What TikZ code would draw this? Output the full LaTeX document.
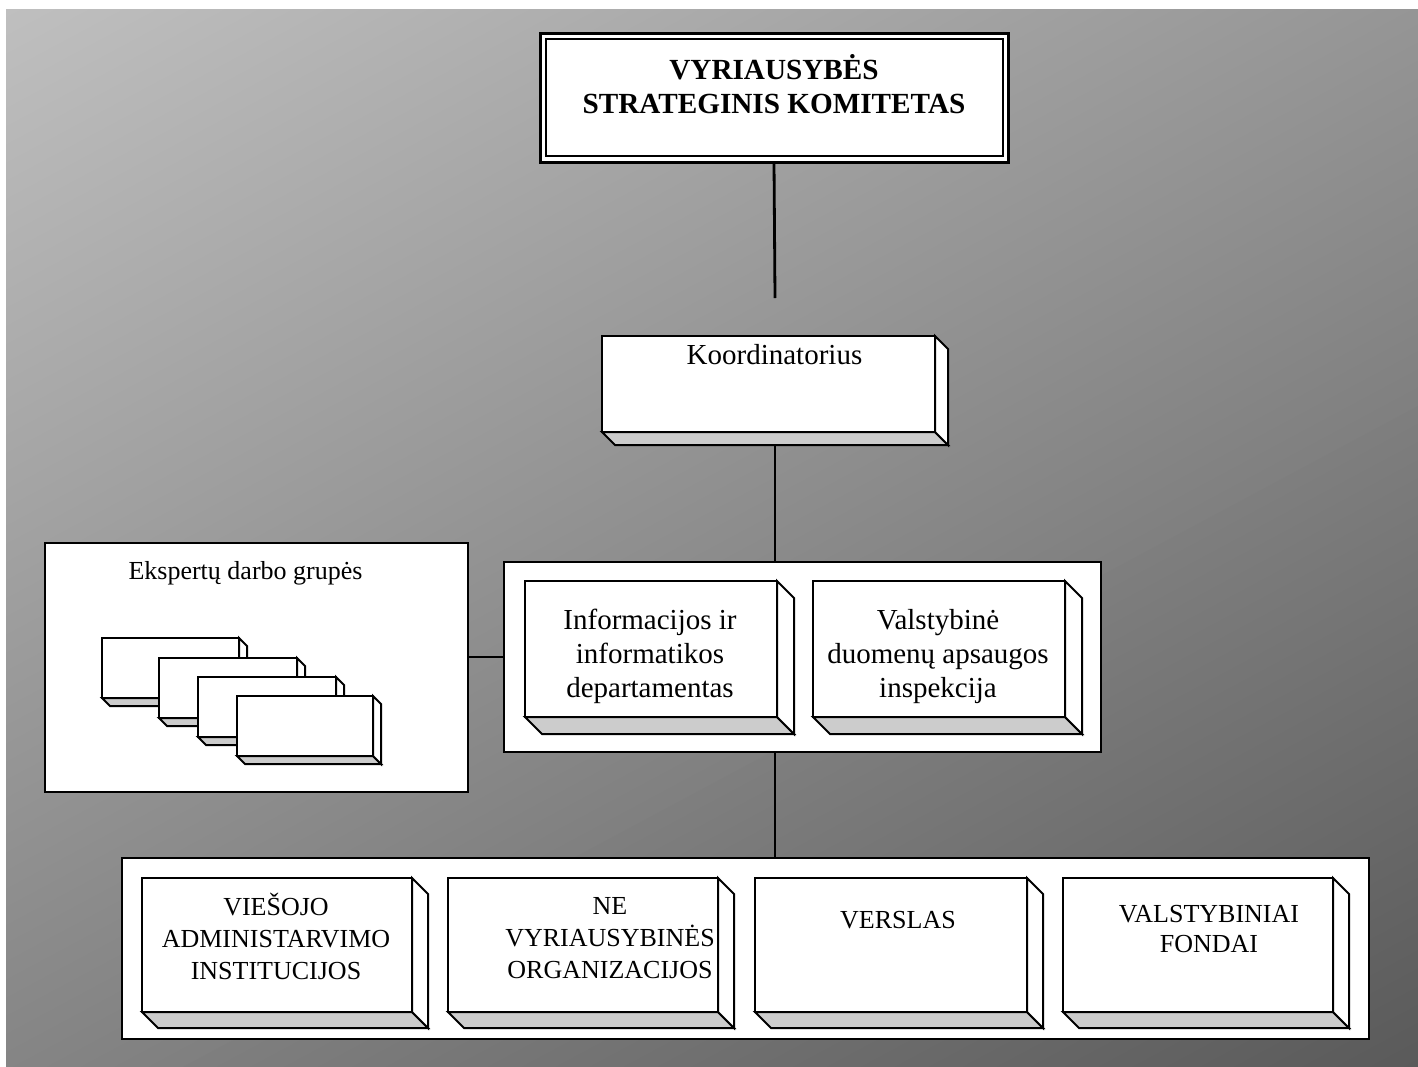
\documentclass[tikz,border=0pt]{standalone}
\usepackage{fontspec}
\setmainfont{Liberation Serif}
\usetikzlibrary{calc}

% front face of an extruded slab, given by its corners (x1,y1) and (x2,y2)
\newcommand{\slabface}[5]{%
  \node[frontface, minimum width={(#4-#2)*0.5pt}, minimum height={(#5-#3)*0.5pt}] (#1) at (#2,#3) {};}
% side and floor of the slab, #2 = depth
\newcommand{\slabdepth}[2]{%
  \draw[faceline, fill=floorgray] (#1.south west) -- (#1.south east) -- ++(#2,#2)
        -- ($(#1.south west)+(#2,#2)$) -- cycle;
  \draw[faceline, fill=white] (#1.north east) -- ++(#2,#2)
        -- ($(#1.south east)+(#2,#2)$) -- (#1.south east) -- cycle;}
% plain white panel with a heavy frame
\newcommand{\panelbox}[5]{%
  \node[panel, minimum width={(#4-#2)*0.5pt}, minimum height={(#5-#3)*0.5pt}] (#1) at (#2,#3) {};}

\definecolor{floorgray}{HTML}{CCCCCC}

\tikzset{
  frontface/.style={draw, line width=1pt, fill=white, inner sep=0pt, outer sep=0pt, anchor=north west},
  faceline/.style={draw, line width=1pt},
  panel/.style={draw, line width=1.45pt, fill=white, inner sep=0pt, outer sep=0pt, anchor=north west},
  link/.style={line width=1.4pt},
  headtxt/.style={font=\fontsize{14.6}{17}\selectfont\bfseries, align=center, inner sep=0pt, anchor=base},
  bigtxt/.style={font=\fontsize{14.5}{16.8}\selectfont, align=center, inner sep=0pt, anchor=base},
  smalltxt/.style={font=\fontsize{13}{16}\selectfont, align=center, inner sep=0pt, anchor=base},
}

\begin{document}
\begin{tikzpicture}[x=0.5pt, y=-0.5pt]
\useasboundingbox (0,0) rectangle (1418,1066);
\fill[white] (0,0) rectangle (1418,1066);

% diagonal grey gradient behind everything
\begin{scope}
  \clip (6,9) rectangle (1418,1066);
  \foreach \i in {0,...,110}{
    \pgfmathsetmacro\t{-40+16*\i}
    \pgfmathsetmacro\g{max(89,min(191,191-0.0635*\t))/255}
    \definecolor{stripe}{gray}{\g}
    \fill[stripe] ({6+\t*0.472-1600*0.882},{9+\t*0.882+1600*0.472})
      -- ++({3200*0.882},{-3200*0.472}) -- ++({2000*0.472},{2000*0.882})
      -- ++({-3200*0.882},{3200*0.472}) -- cycle;
  }
\end{scope}

% connector ends
\coordinate (tstub) at (775,298);
\coordinate (kbase) at (775,446);

% top committee box with double frame
\node[panel, line width=1.5pt, minimum width={468*0.5pt}, minimum height={129*0.5pt}] (top) at (540,33) {};
\draw[line width=1pt] ($(top.north west)+(6,6)$) rectangle ($(top.south east)+(-5,-6)$);
% multi-line nodes: the base anchor sits on the last line
\node[headtxt] (toptxt) at (774,113) {VYRIAUSYBĖS\\STRATEGINIS KOMITETAS};

\draw[link] (top.south) -- (tstub);

% coordinator
\slabface{koord}{602}{336}{935}{432}
\slabdepth{koord}{13}
\node[bigtxt] (koordtxt) at (774.5,364) {Koordinatorius};

% middle group
\panelbox{mid}{504}{562}{1101}{752}
\draw[link] (kbase) -- (kbase |- mid.north);

\slabface{dep}{525}{581}{777}{717}
\slabdepth{dep}{17}
\node[bigtxt] (deptxt) at (650,697) {Informacijos ir\\informatikos\\departamentas};

\slabface{insp}{813}{581}{1065}{717}
\slabdepth{insp}{17}
\node[bigtxt] (insptxt) at (938,697) {Valstybinė\\duomenų apsaugos\\inspekcija};

% expert groups
\panelbox{eks}{45}{543}{468}{792}
\draw[link] (eks.east |- mid.west) -- (mid.west);
\node[smalltxt] (ekstxt) at (245.5,579) {Ekspertų darbo grupės};

\slabface{g1}{102}{638}{239}{698}
\slabdepth{g1}{8}
\slabface{g2}{159}{658}{297}{718}
\slabdepth{g2}{8}
\slabface{g3}{198}{677}{336}{737}
\slabdepth{g3}{8}
\slabface{g4}{237}{696}{373}{756}
\slabdepth{g4}{8}

% bottom group
\panelbox{bot}{122}{858}{1369}{1039}
\draw[link] (mid.south -| kbase) -- (bot.north -| kbase);

\slabface{b1}{142}{878}{412}{1012}
\slabdepth{b1}{16}
\node[smalltxt] (b1txt) at (276,979) {VIEŠOJO\\ADMINISTARVIMO\\INSTITUCIJOS};

\slabface{b2}{448}{878}{718}{1012}
\slabdepth{b2}{16}
\node[smalltxt] (b2txt) at (610,978) {NE\\VYRIAUSYBINĖS\\ORGANIZACIJOS};

\slabface{b3}{755}{878}{1027}{1012}
\slabdepth{b3}{16}
\node[smalltxt] (b3txt) at (898,928) {VERSLAS};

\slabface{b4}{1063}{878}{1333}{1012}
\slabdepth{b4}{16}
\node[smalltxt, font=\fontsize{13}{15}\selectfont] (b4txt) at (1209,952) {VALSTYBINIAI\\FONDAI};
\end{tikzpicture}
\end{document}
